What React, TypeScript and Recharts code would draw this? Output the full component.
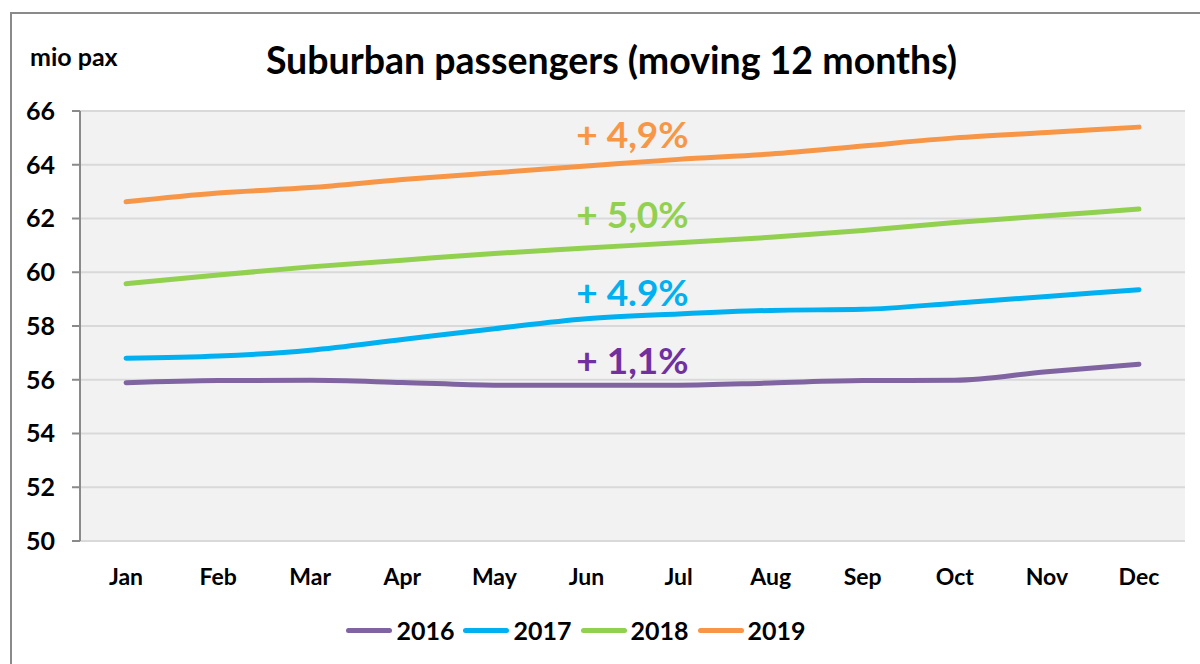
import React from 'react'
import { CartesianGrid, LineChart, Line, ReferenceDot, XAxis, YAxis } from 'recharts'

const months = ['Jan', 'Feb', 'Mar', 'Apr', 'May', 'Jun', 'Jul', 'Aug', 'Sep', 'Oct', 'Nov', 'Dec']
const pax2016 = [55.89, 55.97, 55.98, 55.9, 55.8, 55.8, 55.8, 55.88, 55.97, 55.98, 56.3, 56.58]
const pax2017 = [56.8, 56.88, 57.1, 57.5, 57.9, 58.27, 58.45, 58.58, 58.62, 58.85, 59.1, 59.35]
const pax2018 = [59.57, 59.9, 60.2, 60.45, 60.7, 60.9, 61.1, 61.3, 61.55, 61.85, 62.1, 62.35]
const pax2019 = [62.62, 62.95, 63.15, 63.45, 63.7, 63.95, 64.2, 64.4, 64.7, 65.0, 65.2, 65.4]
const yTicks = [50, 52, 54, 56, 58, 60, 62, 64, 66]
const boundaryTicks = [0, 1, 2, 3, 4, 5, 6, 7, 8, 9, 10, 11, 12]

const series = [
  { key: 'y2016', name: '2016', color: '#8064a2', growth: '+ 1,1%', labelAt: 56.74, textColor: '#7030a0' },
  { key: 'y2017', name: '2017', color: '#00b0f0', growth: '+ 4.9%', labelAt: 59.27, textColor: '#00b0f0' },
  { key: 'y2018', name: '2018', color: '#92d050', growth: '+ 5,0%', labelAt: 62.2, textColor: '#92d050' },
  { key: 'y2019', name: '2019', color: '#f79646', growth: '+ 4,9%', labelAt: 65.18, textColor: '#f79646' },
]

const chartData = months.map((m, i) => ({
  month: m,
  idx: i + 0.5,
  y2016: pax2016[i],
  y2017: pax2017[i],
  y2018: pax2018[i],
  y2019: pax2019[i],
}))

const FONT = 'Lato, "Open Sans", sans-serif'

const GrowthLabel = (props: any) => {
  const { viewBox, value, fill } = props
  return (
    <text
      x={viewBox.x + 46}
      y={viewBox.y}
      textAnchor="middle"
      dominantBaseline="central"
      fontFamily={FONT}
      fontWeight={700}
      fontSize={37}
      fill={fill}
    >
      {value}
    </text>
  )
}

const App: React.FC = () => {
  return (
    <div
      style={{
        position: 'absolute',
        left: 0,
        top: 0,
        width: 1200,
        height: 664,
        overflow: 'hidden',
        background: '#fff',
        fontFamily: FONT,
      }}
    >
      <div
        style={{
          position: 'absolute',
          left: 10,
          top: 12,
          width: 1300,
          height: 800,
          border: '2px solid #8a8a8a',
          boxSizing: 'border-box',
        }}
      />
      <div style={{ position: 'absolute', left: 30, top: 41, fontSize: 25, fontWeight: 700, lineHeight: '30px' }}>
        mio pax
      </div>
      <div
        style={{
          position: 'absolute',
          left: 0,
          width: 1223,
          top: 38,
          textAlign: 'center',
          fontSize: 37.5,
          fontWeight: 700,
          lineHeight: '44px',
        }}
      >
        Suburban passengers (moving 12 months)
      </div>
      <div style={{ position: 'absolute', left: 0, top: 0 }}>
        <LineChart width={1200} height={664} data={chartData} margin={{ top: 111, right: 15, left: 0, bottom: 83 }}>
          <CartesianGrid vertical={false} stroke="#d9d9d9" strokeWidth={2} fill="#f2f2f2" />
          <XAxis
            xAxisId="cat"
            dataKey="month"
            scale="band"
            height={40}
            tickLine={false}
            axisLine={false}
            tick={{ fontSize: 23, fontWeight: 700, fill: '#000', fontFamily: FONT }}
            tickMargin={22}
          />
          <XAxis
            xAxisId="edge"
            dataKey="idx"
            type="number"
            domain={[0, 12]}
            ticks={boundaryTicks}
            tick={false}
            tickSize={9}
            height={0}
            stroke="#8a8a8a"
            strokeWidth={2}
          />
          <YAxis
            domain={[50, 66]}
            ticks={yTicks}
            width={80}
            tickSize={8}
            tickMargin={17}
            stroke="#8a8a8a"
            strokeWidth={2}
            tick={{ fontSize: 25, fontWeight: 700, fill: '#000', fontFamily: FONT }}
            interval={0}
          />
          {series.map((s) => (
            <Line
              key={s.key}
              xAxisId="cat"
              type="monotone"
              dataKey={s.key}
              name={s.name}
              stroke={s.color}
              strokeWidth={5}
              strokeLinecap="round"
              dot={false}
              isAnimationActive={false}
            />
          ))}
          {series.map((s) => (
            <ReferenceDot
              key={'lbl' + s.key}
              xAxisId="cat"
              x="Jun"
              y={s.labelAt}
              r={0}
              stroke="none"
              label={<GrowthLabel value={s.growth} fill={s.textColor} />}
            />
          ))}
        </LineChart>
      </div>
      <div
        style={{
          position: 'absolute',
          top: 613,
          left: 0,
          width: 1152,
          display: 'flex',
          justifyContent: 'center',
          gap: 9,
          fontSize: 25,
          fontWeight: 700,
          lineHeight: '34px',
        }}
      >
        {series.map((s) => (
          <div key={s.key} style={{ display: 'flex', alignItems: 'center', gap: 4 }}>
            <div style={{ width: 46, height: 5, borderRadius: 3, background: s.color }} />
            <span>{s.name}</span>
          </div>
        ))}
      </div>
    </div>
  )
}

export default App
